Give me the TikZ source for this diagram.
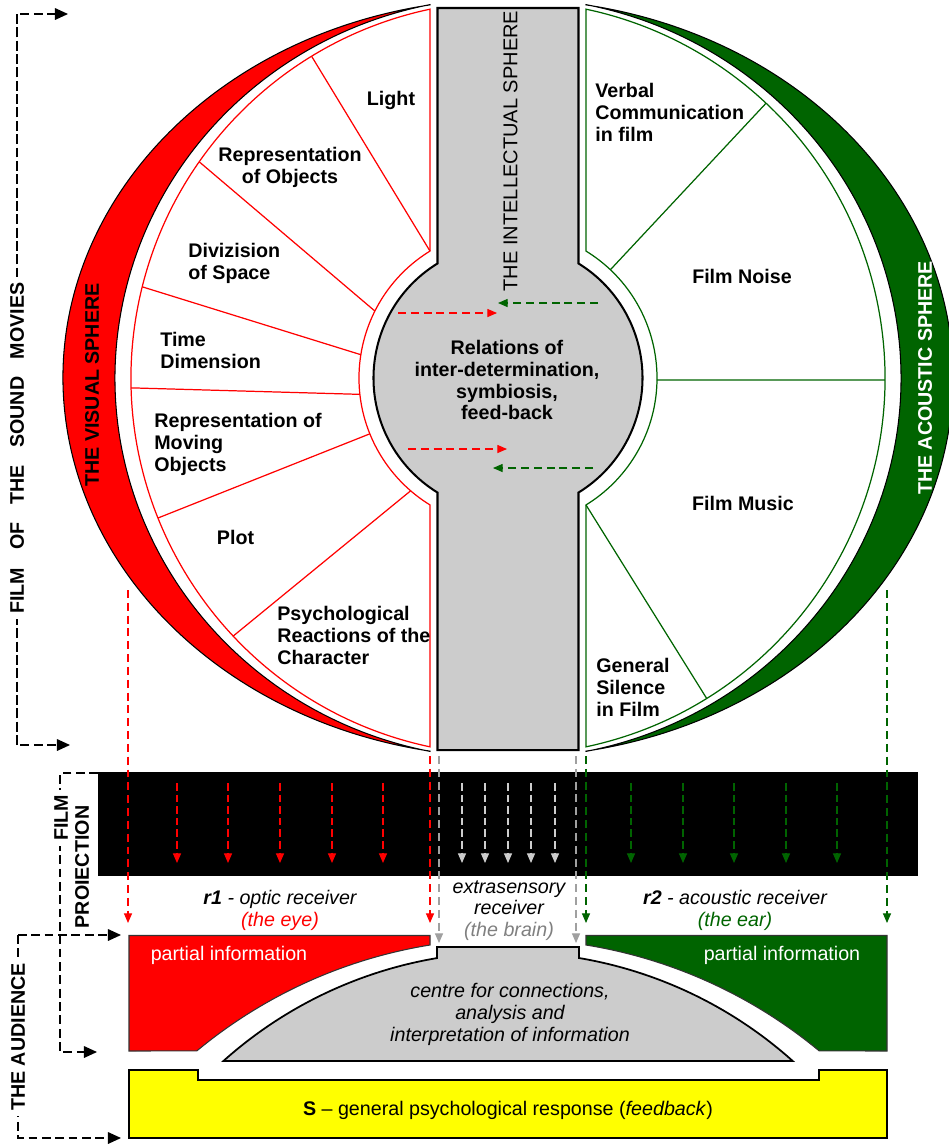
\documentclass[tikz,border=0pt]{standalone}
\usepackage{fontspec}
\setmainfont{Liberation Sans}
\usetikzlibrary{arrows.meta,calc}
\definecolor{vred}{RGB}{255,0,0}
\definecolor{agreen}{RGB}{0,100,0}
\definecolor{igray}{RGB}{204,204,204}
\definecolor{lgray}{RGB}{205,205,205}
\definecolor{mgray}{RGB}{160,160,160}
\definecolor{tgray}{RGB}{128,128,128}
\definecolor{yel}{RGB}{255,255,0}
\begin{document}
\begin{tikzpicture}[x=0.02cm,y=0.02cm,
  lab/.style={font=\fontsize{11.2}{12.4}\selectfont\bfseries,inner sep=0pt},
  ital/.style={font=\fontsize{11.2}{12.4}\selectfont\itshape,inner sep=0pt,align=center},
  plain/.style={font=\fontsize{11.2}{12.4}\selectfont,inner sep=0pt},
  redline/.style={draw=vred,line width=0.7pt},
  grnline/.style={draw=agreen,line width=0.7pt},
  brk/.style={dash pattern=on 5pt off 2.6pt,line width=0.75pt},
  brkarrow/.style={brk,-{Triangle[length=7.4pt,width=6.6pt]}},
  sarrow/.style={dash pattern=on 4.3pt off 2.3pt,line width=0.6pt,-{Triangle[length=5.5pt,width=4.6pt]}},
  larrow/.style={dash pattern=on 4.5pt off 2.8pt,line width=0.6pt,-{Triangle[length=5.5pt,width=4.6pt]}},
]
\useasboundingbox (0,0) rectangle (948,-1144);
\coordinate (C) at (508,-378);
\coordinate (D) at (508,-1378.5);
\coordinate (E) at (508,-1426.4);

% crescents
\filldraw[fill=vred,draw=black,line width=0.6pt] ($(C)+(100.09:445 and 379)$) arc[start angle=100.09,end angle=259.91,x radius=445,y radius=379] -- ($(C)+(258.55:393 and 381)$) arc[start angle=258.55,end angle=101.45,x radius=393,y radius=381] -- cycle;
\filldraw[fill=agreen,draw=black,line width=0.6pt] ($(C)+(79.91:445 and 379)$) arc[start angle=79.91,end angle=-79.91,x radius=445,y radius=379] -- ($(C)+(-78.55:393 and 381)$) arc[start angle=-78.55,end angle=78.55,x radius=393,y radius=381] -- cycle;

% sector regions
\draw[redline] ($(C)+(101.94:377)$) -- ($(C)+(121.57:149)$) arc[start angle=121.57,end angle=238.43,radius=149] -- ($(C)+(258.06:377)$) arc[start angle=258.06,end angle=101.94,radius=377] -- cycle;
\draw[grnline] ($(C)+(78.06:377)$) -- ($(C)+(58.43:149)$) arc[start angle=58.43,end angle=-58.43,radius=149] -- ($(C)+(-78.06:377)$) arc[start angle=-78.06,end angle=78.06,radius=377] -- cycle;
\foreach \a/\b in {121.4/121.57,145.0/153.3,166.0/171.0,181.5/186.3,201.8/202.0,223.2/229.2}
  \draw[redline] ($(C)+(\a:377)$) -- ($(C)+(\b:149)$);
\foreach \a/\b in {46.8/46.6,-0.3/-0.8,-58.2/-58.43}
  \draw[grnline] ($(C)+(\a:377)$) -- ($(C)+(\b:149)$);

% intellectual sphere
\filldraw[fill=igray,draw=black,line width=1.15pt] (437.5,-8) -- ($(C)+(121.61:134.5)$) arc[start angle=121.61,end angle=238.39,radius=134.5] -- (437.5,-750) -- (578.5,-750) -- ($(C)+(301.61:134.5)$) arc[start angle=301.61,end angle=418.39,radius=134.5] -- (578.5,-8) -- cycle;

% arrows inside the circle
\coordinate (ra1) at (398,-313); \coordinate (rb1) at (497,-313);
\coordinate (ra2) at (408,-449); \coordinate (rb2) at (507,-449);
\coordinate (ga1) at (598,-303); \coordinate (gb1) at (498,-303);
\coordinate (ga2) at (593,-468); \coordinate (gb2) at (493,-468);
\draw[larrow,vred] (ra1) -- (rb1);
\draw[larrow,vred] (ra2) -- (rb2);
\draw[larrow,agreen] (ga1) -- (gb1);
\draw[larrow,agreen] (ga2) -- (gb2);

% labels of the sectors
\node[lab,anchor=base] (light) at (391,-105) {Light};
\node[lab,anchor=north,align=center] (repobj) at (290,-147) {Representation\\of Objects};
\node[lab,anchor=north west,align=left] (space) at (188,-243) {Divizision\\of Space};
\node[lab,anchor=north west,align=left] (time) at (160,-332) {Time\\Dimension};
\node[lab,anchor=north west,align=left] (moving) at (154,-413) {Representation of\\Moving\\Objects};
\node[lab,anchor=base] (plot) at (235.5,-544) {Plot};
\node[lab,anchor=north west,align=left] (psych) at (277,-606) {Psychological\\Reactions of the\\Character};
\node[lab,anchor=north west,align=left] (verbal) at (595,-83) {Verbal\\Communication\\in film};
\node[lab,anchor=base] (noise) at (742,-283) {Film Noise};
\node[lab,anchor=base] (music) at (743,-510) {Film Music};
\node[lab,anchor=north west,align=left] (silence) at (596,-658) {General\\Silence\\in Film};
\node[lab,anchor=north,align=center] (rel) at (507,-340) {Relations of\\inter-determination,\\symbiosis,\\feed-back};

\node[font=\fontsize{11.4}{12}\selectfont,rotate=90,inner sep=0pt] (intel) at (510.5,-151) {THE INTELLECTUAL SPHERE};
\node[lab,rotate=90] (visual) at (92,-385) {THE VISUAL SPHERE};
\node[lab,rotate=90,text=white] (acoustic) at (925,-378) {THE ACOUSTIC SPHERE};

% film projection strip
\fill[black] (98,-772) rectangle (918,-876);
\foreach \x in {177,228,280,332,383} \draw[sarrow,vred] (\x,-783) -- (\x,-863);
\foreach \x in {462,485,508,531,555} \draw[sarrow,lgray] (\x,-783) -- (\x,-863);
\foreach \x in {631,683,734,786,837} \draw[sarrow,agreen] (\x,-783) -- (\x,-863);

% long dashed connectors
\coordinate (rl0) at (128,-590); \coordinate (rl1) at (128,-923);
\coordinate (rr0) at (430,-756); \coordinate (rr1) at (430,-923);
\coordinate (gl0) at (439,-756); \coordinate (gl1) at (439,-943);
\coordinate (gr0) at (576,-756); \coordinate (gr1) at (576,-943);
\coordinate (nl0) at (586,-756); \coordinate (nl1) at (586,-923);
\coordinate (nr0) at (887,-590); \coordinate (nr1) at (887,-923);
\draw[larrow,vred] (rl0) -- (rl1);
\draw[larrow,vred] (rr0) -- (rr1);
\draw[larrow,mgray] (gl0) -- (gl1);
\draw[larrow,mgray] (gr0) -- (gr1);
\draw[larrow,agreen] (nl0) -- (nl1);
\draw[larrow,agreen] (nr0) -- (nr1);

% receivers
\node[ital,anchor=north] (r1) at (280,-890) {{\bfseries r1} - optic receiver\\\textcolor{vred}{(the eye)}};
\node[ital,anchor=north] (xr) at (509,-880) {extrasensory\\receiver\\\textcolor{tgray}{(the brain)}};
\node[ital,anchor=north] (r2) at (735,-890) {{\bfseries r2} - acoustic receiver\\\textcolor{agreen}{(the ear)}};

% audience shapes
\filldraw[fill=vred,draw=black!80,line width=0.6pt] (129,-935.5) -- (430,-935.5) -- (430,-945) arc[start angle=99.2,end angle=129.64,radius=487.7] -- (129,-1051) -- cycle;
\filldraw[fill=agreen,draw=black!80,line width=0.6pt] (887,-935.5) -- (586,-935.5) -- (586,-945) arc[start angle=80.8,end angle=50.36,radius=487.7] -- (887,-1051) -- cycle;
\filldraw[fill=igray,draw=black,line width=1pt] ($(D)+(131.88:426.4)$) arc[start angle=131.88,end angle=99.58,radius=426.4] -- (437,-947) -- (579,-947) -- (579,-958) arc[start angle=80.42,end angle=48.12,radius=426.4] -- cycle;
\filldraw[fill=yel,draw=black,line width=1pt] (129,-1070) -- (198,-1070) -- (198,-1080) -- (819,-1080) -- (819,-1070) -- (887,-1070) -- (887,-1138) -- (129,-1138) -- cycle;

\node[plain,anchor=base,text=white] (pil) at (229,-960) {partial information};
\node[plain,anchor=base,text=white] (pir) at (782,-960) {partial information};
\node[ital,anchor=north] (centre) at (510,-983) {centre for connections,\\analysis and\\interpretation of information};
\node[plain,anchor=base] (resp) at (508,-1115) {\textbf{S} -- general psychological response (\textit{feedback})};

% brackets
\coordinate (t0) at (17,-14); \coordinate (t1) at (68,-14);
\coordinate (b0) at (17,-745); \coordinate (b1) at (70,-745);
\draw[brkarrow] (b0) -- (t0) -- (t1);
\draw[brkarrow] (t0) -- (b0) -- (b1);
\node[lab,rotate=90,fill=white,inner sep=3pt] (filmsound) at (17,-448) {FILM\hspace{0.9em}OF\hspace{0.9em}THE\hspace{0.9em}SOUND\hspace{0.9em}MOVIES};

\coordinate (p0) at (98,-773); \coordinate (p1) at (60,-773);
\coordinate (p2) at (60,-1052); \coordinate (p3) at (97,-1052);
\draw[brkarrow] (p0) -- (p1) -- (p2) -- (p3);
\node[lab,rotate=90,fill=white,inner sep=3pt] (film) at (61,-818) {FILM};
\node[lab,rotate=90] (proi) at (82,-867) {PROIECTION};

\coordinate (a0) at (121,-935); \coordinate (a1) at (18,-935);
\coordinate (a2) at (18,-1138); \coordinate (a3) at (121,-1138);
\draw[brkarrow] (a1) -- (a0);
\draw[brkarrow] (a1) -- (a2) -- (a3);
\node[lab,rotate=90,fill=white,inner sep=3pt] (aud) at (18,-1037) {THE AUDIENCE};
\end{tikzpicture}
\end{document}
